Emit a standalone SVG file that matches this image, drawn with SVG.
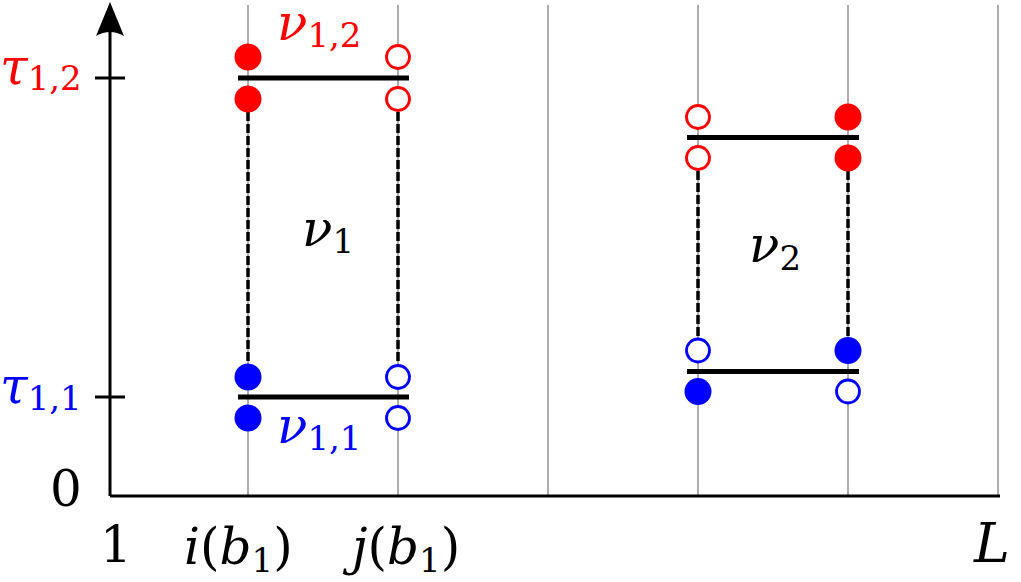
<svg xmlns="http://www.w3.org/2000/svg" width="1021" height="582" viewBox="0 0 1021 582">
<style>
.grid{stroke:#999;stroke-width:1.6}
.ax{stroke:#000;stroke-width:3;fill:none}
.bar{stroke:#000;stroke-width:5}
.dash{stroke:#000;stroke-width:3.5;stroke-dasharray:9 3}
.rf{fill:#f00}
.ro{fill:#fff;stroke:#f00;stroke-width:2.8}
.bf{fill:#00f}
.bo{fill:#fff;stroke:#00f;stroke-width:2.8}
.it{font-style:italic}
.sub{font-size:34px;font-style:normal}
.red{fill:#f00}
.blue{fill:#00f}
</style>
<g id="grid">
<line class="grid" x1="248" y1="5" x2="248" y2="496"/>
<line class="grid" x1="398" y1="5" x2="398" y2="496"/>
<line class="grid" x1="548" y1="5" x2="548" y2="496"/>
<line class="grid" x1="698" y1="5" x2="698" y2="496"/>
<line class="grid" x1="848" y1="5" x2="848" y2="496"/>
<line class="grid" x1="998" y1="5" x2="998" y2="496"/>
</g>
<g id="axes">
<path class="ax" d="M110,496 V28 M110,496 H1000 M95,78 H125 M95,397 H125"/>
<path d="M110,2 L124,36 Q110,28 96,36 Z" fill="#000"/>
</g>
<g id="connectors">
<line class="dash" x1="248" y1="112" x2="248" y2="364"/>
<line class="dash" x1="398" y1="112" x2="398" y2="364"/>
<line class="dash" x1="698" y1="171" x2="698" y2="337"/>
<line class="dash" x1="848" y1="171" x2="848" y2="337"/>
</g>
<g id="node-nu12">
<line class="bar" x1="238" y1="78" x2="409" y2="78"/>
<circle class="rf" cx="248" cy="57" r="13.5"/>
<circle class="rf" cx="248" cy="99" r="13.5"/>
<circle class="ro" cx="398" cy="57" r="11.5"/>
<circle class="ro" cx="398" cy="99" r="11.5"/>
</g>
<g id="node-nu11">
<line class="bar" x1="238" y1="397" x2="409" y2="397"/>
<circle class="bf" cx="248" cy="377" r="13.5"/>
<circle class="bf" cx="248" cy="418" r="13.5"/>
<circle class="bo" cx="398" cy="377" r="11.5"/>
<circle class="bo" cx="398" cy="418" r="11.5"/>
</g>
<g id="node-nu2-top">
<line class="bar" x1="687" y1="137.5" x2="859" y2="137.5"/>
<circle class="ro" cx="698" cy="117" r="11.5"/>
<circle class="ro" cx="698" cy="158" r="11.5"/>
<circle class="rf" cx="848" cy="117" r="13.5"/>
<circle class="rf" cx="848" cy="158" r="13.5"/>
</g>
<g id="node-nu2-bottom">
<line class="bar" x1="687" y1="371.5" x2="859" y2="371.5"/>
<circle class="bo" cx="698" cy="350.5" r="11.5"/>
<circle class="bf" cx="698" cy="391.5" r="13.5"/>
<circle class="bf" cx="848" cy="350.5" r="13.5"/>
<circle class="bo" cx="848" cy="391.5" r="11.5"/>
</g>
<g id="labels" font-family="'DejaVu Serif', serif" font-size="50">
<text class="red" x="0" y="84"><tspan class="it">τ</tspan><tspan class="sub" dy="6">1,2</tspan></text>
<text class="blue" x="0" y="403"><tspan class="it">τ</tspan><tspan class="sub" dy="7">1,1</tspan></text>
<text class="red" x="277" y="40"><tspan class="it">ν</tspan><tspan class="sub" dy="7">1,2</tspan></text>
<text class="blue" x="277" y="443"><tspan class="it">ν</tspan><tspan class="sub" dy="7">1,1</tspan></text>
<text x="302" y="246"><tspan class="it">ν</tspan><tspan class="sub" dy="7">1</tspan></text>
<text x="749" y="262"><tspan class="it">ν</tspan><tspan class="sub" dy="8">2</tspan></text>
<text x="50" y="506">0</text>
<text x="100" y="562">1</text>
<text x="184" y="564"><tspan class="it">i</tspan>(<tspan class="it">b</tspan><tspan class="sub" dy="8">1</tspan><tspan dy="-8">)</tspan></text>
<text x="352" y="564"><tspan class="it">j</tspan>(<tspan class="it">b</tspan><tspan class="sub" dy="8">1</tspan><tspan dy="-8">)</tspan></text>
<text class="it" x="974" y="562" font-size="54">L</text>
</g>
</svg>
